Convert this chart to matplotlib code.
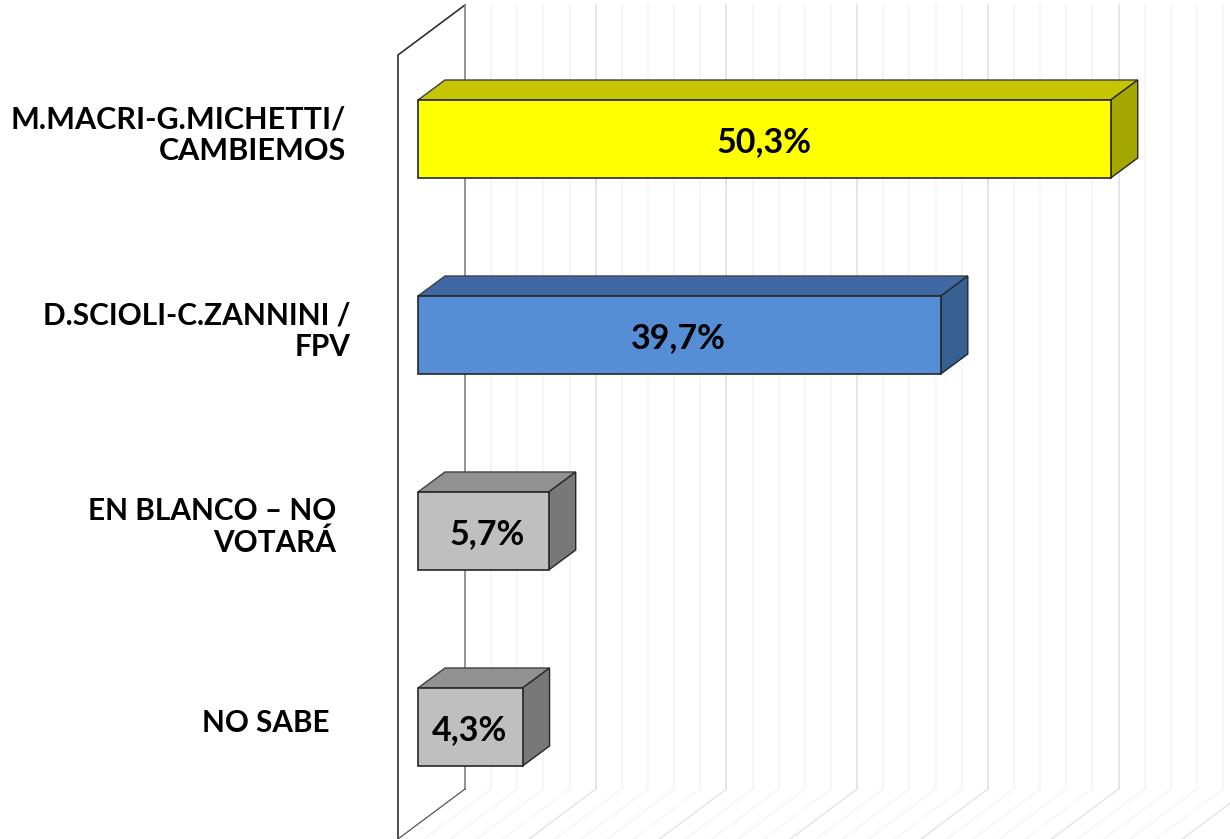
import matplotlib
matplotlib.use("Agg")
import matplotlib.pyplot as plt
from matplotlib.patches import Polygon
import numpy as np

# Data
categories = ["M.MACRI-G.MICHETTI/\nCAMBIEMOS", "D.SCIOLI-C.ZANNINI /\nFPV",
              "EN BLANCO – NO\nVOTARÁ", "NO SABE"]
bar_lengths = [53, 40, 10, 8]   # drawn length on the chart's scale
value_labels = ["50,3%", "39,7%", "5,7%", "4,3%"]
grid_values = list(range(0, 62, 2))

front_colors = ["#FFFF00", "#558ED5", "#BFBFBF", "#BFBFBF"]
top_colors = ["#C6C600", "#4069A3", "#919191", "#919191"]
side_colors = ["#A6A600", "#365F92", "#787878", "#787878"]
label_right = [346, 351, 336, 330]  # px right edges
label_sizes = [22, 21.5, 21.4, 21.3]
value_nudge = [0, -1, 4, -0.5]      # px
W, H = 1230, 839
PX_X = 13.07      # px per value unit
PX_Y = 196.0      # px per category step
X0 = 398.0        # front wall px
Y0 = 139.0        # first row centre px

fig = plt.figure(figsize=(W / 100, H / 100), dpi=100)
ax = fig.add_axes([0, 0, 1, 1])
ax.set_xlim(-X0 / PX_X, (W - X0) / PX_X)
ax.set_ylim((H - Y0) / PX_Y, -Y0 / PX_Y)
ax.axis("off")

# Depths in data units
wall_dx, wall_dy = 67 / PX_X, 50 / PX_Y
bar_off_x, bar_off_y = 20 / PX_X, 15 / PX_Y
bar_dx, bar_dy = 27 / PX_X, 20 / PX_Y
half = 39 / PX_Y
wall_top = (55 - Y0) / PX_Y
wall_bot = (839 - Y0) / PX_Y

# Gridlines on back wall and floor
for v in grid_values[1:]:
    strong = v % 10 == 0
    ax.plot([v + wall_dx, v + wall_dx], [wall_top - wall_dy, wall_bot - wall_dy],
            color="#E0E0E0" if strong else "#F2F2F2", lw=1.2 if strong else 1.1, zorder=1,
            solid_joinstyle="miter")
    ax.plot([v + wall_dx, v], [wall_bot - wall_dy, wall_bot],
            color="#E6E6E6" if strong else "#F5F5F5", lw=1.1, zorder=1)

# Side wall
ax.plot([0, 0, wall_dx], [wall_bot, wall_top, wall_top - wall_dy],
        color="#303030", lw=1.2, zorder=2, solid_joinstyle="miter")
ax.plot([wall_dx, wall_dx], [wall_top - wall_dy, wall_bot - wall_dy], color="#808080", lw=1.2, zorder=2)
ax.plot([0, wall_dx], [wall_bot, wall_bot - wall_dy], color="#555555", lw=0.9, zorder=2)

# 3D bars
ypos = np.arange(len(categories))
ax.barh(ypos, bar_lengths, height=2 * half, left=bar_off_x, color=front_colors,
        edgecolor="#262626", linewidth=1.2, zorder=4)
for i, L in enumerate(bar_lengths):
    xl, xr = bar_off_x, bar_off_x + L
    yt, yb = i - half, i + half
    ax.add_patch(Polygon([(xl, yt), (xl + bar_dx, yt - bar_dy), (xr + bar_dx, yt - bar_dy), (xr, yt)],
                         facecolor=top_colors[i], edgecolor="#404040", lw=1.0, zorder=3))
    ax.add_patch(Polygon([(xr, yt), (xr + bar_dx, yt - bar_dy), (xr + bar_dx, yb - bar_dy), (xr, yb)],
                         facecolor=side_colors[i], edgecolor="#262626", lw=1.0, zorder=3))
    ax.text(bar_off_x + L / 2 + value_nudge[i] / PX_X, i + 3 / PX_Y, value_labels[i], ha="center", va="center",
            family="Lato", weight="bold", fontsize=24.5, color="black", zorder=5)

# Category labels
for i, lab in enumerate(categories):
    ax.text((label_right[i] - X0) / PX_X, i - 4 / PX_Y, lab, ha="right", va="center",
            multialignment="right", family="Lato", weight="bold", fontsize=label_sizes[i],
            color="black", linespacing=1.16)

fig.savefig("out.png", dpi=100, facecolor="white")
